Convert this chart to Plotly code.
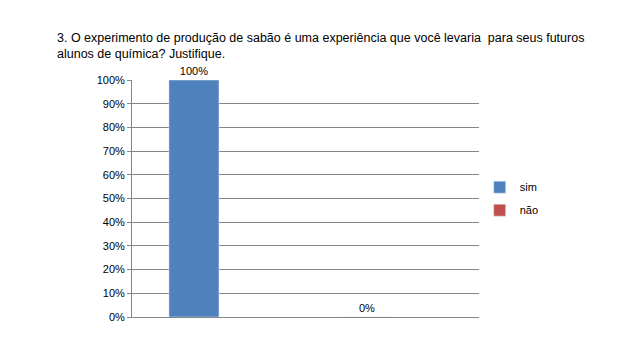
import plotly.graph_objects as go

series_names = ["sim", "não"]
series_values = [1.0, 0.0]
series_colors = ["#4F81BD", "#C0504D"]
y_ticks = [i / 10 for i in range(11)]

fig = go.Figure()
for i, (name, val, col) in enumerate(zip(series_names, series_values, series_colors)):
    fig.add_trace(go.Bar(
        x=[i], y=[val], name=name, marker_color=col, width=0.289,
        legendgroup=name,
        texttemplate="%{y:.0%}", textposition="outside",
        textfont=dict(size=11, color="#000000"), cliponaxis=False,
    ))

fig.update_layout(
    width=640, height=356,
    paper_bgcolor="white", plot_bgcolor="white",
    margin=dict(l=124, r=169, t=72, b=47),
    barmode="overlay",
    font=dict(family="Liberation Sans, Arial, sans-serif", color="#000000"),
    title=dict(
        text="3. O experimento de produção de sabão é uma experiência que você levaria  para seus futuros<br>alunos de química? Justifique.",
        x=49 / 640, xanchor="left", y=1 - 34 / 356, yanchor="top",
        font=dict(size=12.5, color="#000000"),
    ),
    legend=dict(
        x=1.002, xanchor="left", y=0.609, yanchor="top",
        font=dict(size=11), itemwidth=30, traceorder="grouped", tracegroupgap=4,
        bgcolor="rgba(0,0,0,0)",
    ),
    showlegend=True,
)
fig.update_xaxes(showgrid=False, showline=True, linecolor="#868686", ticks="",
                 showticklabels=False, range=[-0.358, 1.647], zeroline=False)
fig.update_yaxes(range=[0, 1], tickvals=y_ticks, tickformat=".0%",
                 showgrid=True, gridcolor="#868686", gridwidth=1,
                 showline=True, linecolor="#868686", ticks="outside",
                 ticklen=4, tickcolor="#868686",
                 tickfont=dict(size=11, color="#000000"), zeroline=False)

fig.write_html("out.html")
